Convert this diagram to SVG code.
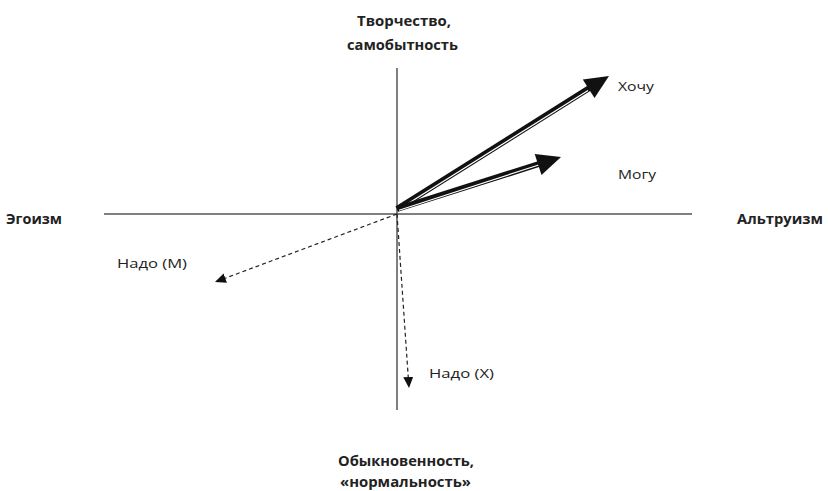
<svg xmlns="http://www.w3.org/2000/svg" width="828" height="491" viewBox="0 0 828 491">
<style>
.t{font-family:"Open Sans","Liberation Sans",sans-serif;font-size:13.5px;fill:#222}
.b{font-weight:bold;font-size:14px}
.ax{stroke:#555;stroke-width:1.5;fill:none}
.thick{stroke:#111;stroke-width:6;fill:none}
.stripe{stroke:#fff;stroke-width:1.2;fill:none}
.head{fill:#111}
.dash{stroke:#222;stroke-width:1.2;stroke-dasharray:4,3;fill:none}
</style>
<defs>
<marker id="small" markerUnits="userSpaceOnUse" markerWidth="12" markerHeight="10" refX="11" refY="5" orient="auto">
<path d="M0,0 L11,5 L0,10 z" fill="#111"/>
</marker>
</defs>
<g id="axes">
<line class="ax" x1="104" y1="214" x2="692" y2="214"/>
<line class="ax" x1="397" y1="68" x2="397" y2="410"/>
</g>
<g id="connectors">
<line class="thick" x1="397" y1="209" x2="591" y2="87"/>
<line class="stripe" x1="399" y1="209.3" x2="588" y2="90.5"/>
<polygon class="head" points="609,76 594.5,98.1 582.8,79.4"/>
<line class="thick" x1="397" y1="209" x2="542" y2="163"/>
<line class="stripe" x1="399" y1="210.2" x2="539.5" y2="164.8"/>
<polygon class="head" points="561,157 541.5,174.9 534.7,153.9"/>
<line class="dash" x1="397" y1="214" x2="215" y2="282" marker-end="url(#small)"/>
<line class="dash" x1="397" y1="214" x2="409" y2="388" marker-end="url(#small)"/>
</g>
<g id="top"><text class="t b" x="357" y="26" textLength="94" lengthAdjust="spacingAndGlyphs">Творчество,</text><text class="t b" x="347" y="50" textLength="111" lengthAdjust="spacingAndGlyphs">самобытность</text></g>
<g id="bottom"><text class="t b" x="338" y="466" textLength="136" lengthAdjust="spacingAndGlyphs">Обыкновенность,</text><text class="t b" x="340" y="487" textLength="131" lengthAdjust="spacingAndGlyphs">«нормальность»</text></g>
<g id="left"><text class="t b" x="6" y="224" textLength="56" lengthAdjust="spacingAndGlyphs">Эгоизм</text></g>
<g id="right"><text class="t b" x="737" y="224" textLength="86" lengthAdjust="spacingAndGlyphs">Альтруизм</text></g>
<g id="hochu"><text class="t" x="618" y="91" textLength="36" lengthAdjust="spacingAndGlyphs">Хочу</text></g>
<g id="mogu"><text class="t" x="618" y="179" textLength="38" lengthAdjust="spacingAndGlyphs">Могу</text></g>
<g id="nadoM"><text class="t" x="117" y="268" textLength="70" lengthAdjust="spacingAndGlyphs">Надо (М)</text></g>
<g id="nadoX"><text class="t" x="429" y="378" textLength="65" lengthAdjust="spacingAndGlyphs">Надо (Х)</text></g>
</svg>
